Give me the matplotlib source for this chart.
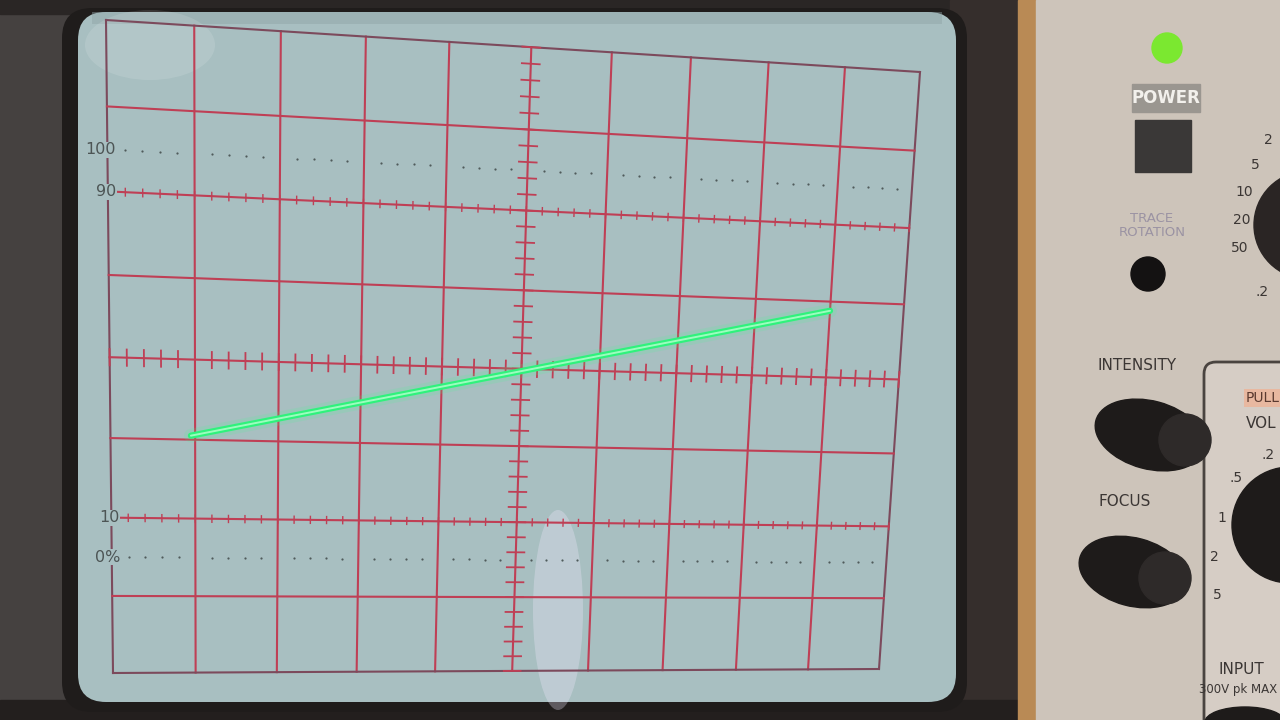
import numpy as np
import matplotlib
matplotlib.use("Agg")
import matplotlib.pyplot as plt
import matplotlib.transforms as mtransforms
from matplotlib.patches import FancyBboxPatch, Rectangle, Circle, Ellipse

# ---- data ----
x_divisions = [-5, -4, -3, -2, -1, 0, 1, 2, 3, 4, 5]
y_divisions = [-4, -3, -2, -1, 0, 1, 2, 3, 4]
rise_labels = ["100", "90", "10", "0%"]
rise_levels = [2.5, 2.0, -2.0, -2.5]
trace_x = [-4.05, 4.0]
trace_y = [-0.95, 0.88]
panel_labels = ["POWER", "TRACE\nROTATION", "INTENSITY", "FOCUS", "INPUT", "300V pk MAX"]

W, H = 1280, 720
fig = plt.figure(figsize=(12.8, 7.2), dpi=100)
fig.patch.set_facecolor("#2f2b2a")

# ---------- instrument decoration (pixel coordinates) ----------
bg = fig.add_axes([0, 0, 1, 1])
bg.set_xlim(0, W)
bg.set_ylim(H, 0)
bg.axis("off")
bg.add_patch(Rectangle((0, 0), 80, H, color="#454140", zorder=0))
bg.add_patch(Rectangle((0, 0), 1020, 14, color="#2a2625", zorder=0))
bg.add_patch(Rectangle((950, 0), 70, H, color="#352e2c", zorder=0))
bg.add_patch(Rectangle((0, 700), 1020, 20, color="#231f1e", zorder=0))
bg.add_patch(FancyBboxPatch((62, 8), 905, 704, boxstyle="round,pad=0,rounding_size=30",
                            facecolor="#1f1c1b", edgecolor="none", zorder=1))
bg.add_patch(FancyBboxPatch((78, 12), 878, 690, boxstyle="round,pad=0,rounding_size=28",
                            facecolor="#a8bfc1", edgecolor="none", zorder=2))
bg.add_patch(Rectangle((92, 12), 850, 12, color="#8fa3a6", alpha=0.45, zorder=2, lw=0))
bg.add_patch(Ellipse((150, 45), 130, 70, color="white", alpha=0.12, zorder=3, lw=0))
bg.add_patch(Ellipse((558, 610), 50, 200, color="#f2eaff", alpha=0.3, zorder=3, lw=0))

# right control panel
bg.add_patch(Rectangle((1018, 0), 18, H, color="#b98a55", zorder=1))
bg.add_patch(Rectangle((1036, 0), 244, H, color="#cdc4ba", zorder=1))
bg.add_patch(FancyBboxPatch((1204, 362), 120, 380, boxstyle="round,pad=0,rounding_size=12",
                            facecolor="#d6cdc5", edgecolor="#4a4440", lw=2, zorder=2))
bg.add_patch(Circle((1167, 48), 15, color="#7be830", zorder=3))
bg.add_patch(Rectangle((1132, 84), 68, 28, color="#9a9690", zorder=3))
bg.add_patch(Rectangle((1135, 120), 56, 52, color="#3a3837", zorder=3))
bg.add_patch(Circle((1148, 274), 17, color="#141212", zorder=3))
bg.add_patch(Circle((1308, 225), 54, color="#2a2524", zorder=3))
bg.add_patch(Ellipse((1150, 435), 112, 68, angle=15, color="#1e1b1a", zorder=3))
bg.add_patch(Circle((1185, 440), 26, color="#2e2a29", zorder=3))
bg.add_patch(Ellipse((1133, 572), 110, 68, angle=15, color="#1e1b1a", zorder=3))
bg.add_patch(Circle((1165, 578), 26, color="#2e2a29", zorder=3))
bg.add_patch(Circle((1290, 525), 58, color="#1e1b1a", zorder=3))
bg.add_patch(Ellipse((1245, 722), 80, 30, color="#1e1b1a", zorder=3))
txt_kw = dict(zorder=4, ha="center", va="center", family="DejaVu Sans")
bg.text(1166, 98, panel_labels[0], color="#f2f0ec", fontsize=12, fontweight="bold", **txt_kw)
bg.text(1152, 226, panel_labels[1], color="#9b93a3", fontsize=9.5, linespacing=1.1, **txt_kw)
bg.text(1137, 366, panel_labels[2], color="#3b3634", fontsize=11, **txt_kw)
bg.text(1125, 502, panel_labels[3], color="#3b3634", fontsize=11, **txt_kw)
bg.text(1241, 669, panel_labels[4], color="#3b3634", fontsize=11, **txt_kw)
bg.text(1238, 689, panel_labels[5], color="#3b3634", fontsize=8.5, **txt_kw)
bg.text(1246, 398, "PULL", color="#5a3a30", fontsize=10, zorder=4, ha="left", va="center",
        bbox=dict(facecolor="#e8b8a0", edgecolor="none", pad=1.5))
bg.text(1246, 424, "VOL", color="#3b3634", fontsize=11, zorder=4, ha="left", va="center")
for s, (px, py) in zip([".2", ".5", "1", "2", "5", "2", "5", "10", "20", "50", ".2"],
                       [(1268, 455), (1236, 478), (1222, 518), (1214, 557), (1217, 595),
                        (1268, 140), (1255, 165), (1244, 192), (1242, 220), (1240, 248),
                        (1262, 292)]):
    bg.text(px, py, s, color="#3b3634", fontsize=10, zorder=5, ha="center", va="center")

# ---------- screen (chart) axes ----------
ax = fig.add_axes([0.1, 0.1, 0.6, 0.6])
ax.set_xlim(x_divisions[0], x_divisions[-1])
ax.set_ylim(y_divisions[0], y_divisions[-1])
ax.axis("off")
ax.set_facecolor("none")

# perspective of the photographed CRT: grid corners as seen in the photo (px, top-left origin)
corner_px = [(106, 20), (920, 72), (879, 669), (113, 673)]   # TL, TR, BR, BL
src = ax.transData.transform([(x_divisions[0], y_divisions[-1]), (x_divisions[-1], y_divisions[-1]),
                              (x_divisions[-1], y_divisions[0]), (x_divisions[0], y_divisions[0])])
dst = [(u, H - v) for u, v in corner_px]


def homography(s, d):
    rows = []
    for (x, y), (u, v) in zip(s, d):
        rows.append([x, y, 1, 0, 0, 0, -u * x, -u * y, -u])
        rows.append([0, 0, 0, x, y, 1, -v * x, -v * y, -v])
    _, _, vt = np.linalg.svd(np.array(rows))
    m = vt[-1].reshape(3, 3)
    return m / m[2, 2]


class Projective(mtransforms.Transform):
    input_dims = output_dims = 2
    is_separable = False
    has_inverse = True

    def __init__(self, m):
        super().__init__()
        self.m = m

    def transform_non_affine(self, values):
        v = np.asarray(values, dtype=float)
        shape = v.shape
        v = v.reshape(-1, 2)
        h = np.column_stack([v, np.ones(len(v))]) @ self.m.T
        return (h[:, :2] / h[:, 2:3]).reshape(shape)

    def inverted(self):
        return Projective(np.linalg.inv(self.m))


T = ax.transData + Projective(homography(src, dst))
kw = dict(transform=T, clip_on=False)

grid_c = "#bf3f55"
edge_c = "#7c4a5c"
for xv in x_divisions:
    c = edge_c if xv in (x_divisions[0], x_divisions[-1]) else grid_c
    ax.plot([xv, xv], [y_divisions[0], y_divisions[-1]], color=c, lw=1.5, zorder=2, **kw)
for yv in y_divisions:
    c = edge_c if yv in (y_divisions[0], y_divisions[-1]) else grid_c
    ax.plot([x_divisions[0], x_divisions[-1]], [yv, yv], color=c, lw=1.5, zorder=2, **kw)

minor_x = np.arange(x_divisions[0], x_divisions[-1] + 0.001, 0.2)
minor_y = np.arange(y_divisions[0], y_divisions[-1] + 0.001, 0.2)
for xv in minor_x:
    ax.plot([xv, xv], [-0.1, 0.1], color=grid_c, lw=1.3, zorder=2, **kw)
for yv in minor_y:
    ax.plot([-0.11, 0.11], [yv, yv], color=grid_c, lw=1.3, zorder=2, **kw)
for lvl in rise_levels[1:3]:
    for xv in minor_x:
        ax.plot([xv, xv], [lvl - 0.045, lvl + 0.045], color=grid_c, lw=1.0, zorder=2, **kw)
for lvl in (rise_levels[0], rise_levels[3]):
    xs = [xv for xv in minor_x if abs(xv - round(xv)) > 0.05]
    ax.plot(xs, [lvl] * len(xs), ls="none", marker="o", ms=1.6, mew=0,
            color="#4f5b5b", zorder=2, **kw)

for lab, lvl in zip(rise_labels, rise_levels):
    ax.text(-4.9, lvl, lab, ha="right", va="center", fontsize=11.5, color="#4d5555", zorder=3,
            bbox=dict(facecolor="#a8bfc1", edgecolor="none", pad=0.4), **kw)

# trace with phosphor glow
ax.plot(trace_x, trace_y, color="#40ff90", lw=10, alpha=0.15, solid_capstyle="round", zorder=4, **kw)
ax.plot(trace_x, trace_y, color="#2ff27c", lw=4.5, solid_capstyle="round", zorder=5, **kw)
ax.plot(trace_x, trace_y, color="#b8ffd0", lw=1.4, alpha=0.8, solid_capstyle="round", zorder=6, **kw)

fig.savefig("out.png", dpi=100, facecolor=fig.get_facecolor())
